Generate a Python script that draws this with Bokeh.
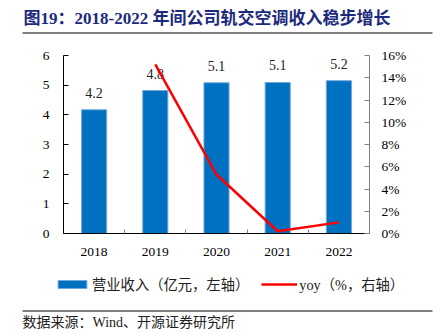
from bokeh.plotting import figure
from bokeh.models import (Range1d, LinearAxis, FixedTicker, Legend, LegendItem,
                          PrintfTickFormatter)
from bokeh.layouts import column
from bokeh.core.properties import value
from bokeh.embed import file_html
from bokeh.resources import INLINE

years = ["2018", "2019", "2020", "2021", "2022"]
revenue = [4.17, 4.82, 5.08, 5.09, 5.15]
rev_labels = ["4.2", "4.8", "5.1", "5.1", "5.2"]
yoy_years = ["2019", "2020", "2021", "2022"]
yoy = [15.2, 5.3, 0.2, 1.0]
left_ticks = [0, 1, 2, 3, 4, 5, 6]
right_ticks = [0, 2, 4, 6, 8, 10, 12, 14, 16]
title_text = "图19：2018-2022 年间公司轨交空调收入稳步增长"
source_text = "数据来源：Wind、开源证券研究所"
bar_name = "营业收入（亿元，左轴）"
line_name = "yoy（%，右轴）"

SERIF = "'Liberation Serif', 'Noto Sans CJK SC'"
FS = "13.5px"
BAR_FILL = "#0070C0"
BAR_EDGE = "#6FA8DC"
LINE_COLOR = "#FF0000"


def blank(h, top):
    f = figure(width=434, height=h, x_range=Range1d(0, 434), y_range=Range1d(top + h, top),
               output_backend="svg", toolbar_location=None, min_border=0, frame_align=False)
    f.axis.visible = False
    f.grid.visible = False
    f.outline_line_color = None
    f.title.visible = False
    return f


# header
head = blank(40, 0)
head.segment(x0=[22], y0=[32.5], x1=[432], y1=[32.5], line_color="#000000", line_width=1.2)
head.text(x=[23], y=[18], text=[title_text], text_font=value(SERIF), text_font_size="17px",
          text_font_style="bold", text_color="#1C2A7E", text_baseline="middle")

# main chart
xi = list(range(len(years)))
yoy_x = [years.index(y) for y in yoy_years]

p = figure(width=434, height=225, x_range=Range1d(-0.5, 4.5), y_range=Range1d(0, 6),
           output_backend="svg", toolbar_location=None, frame_align=False,
           min_border_left=63, min_border_right=65, min_border_top=15, min_border_bottom=32)
p.title.visible = False
p.outline_line_color = None
p.xgrid.visible = False
p.ygrid.visible = False
p.extra_y_ranges = {"yoy": Range1d(0, 16)}

p.vbar(x=xi, top=revenue, width=0.41, fill_color=BAR_FILL, line_color=BAR_EDGE, line_width=1)
p.text(x=xi, y=revenue, text=rev_labels, y_offset=-17, text_align="center", text_baseline="alphabetic",
       text_font=value(SERIF), text_font_size="14px", text_color="#222222")
p.line(x=yoy_x, y=yoy, y_range_name="yoy", line_color=LINE_COLOR, line_width=2.5)

ya = p.yaxis[0]
ya.ticker = FixedTicker(ticks=left_ticks)
ya.major_tick_in = 5
ya.major_tick_out = 0
ya.minor_tick_line_color = None
ya.axis_line_color = "#000000"
ya.major_tick_line_color = "#000000"
ya.major_label_standoff = 14
ya.major_label_text_font = SERIF
ya.major_label_text_font_size = FS
ya.major_label_text_color = "#000000"

ra = LinearAxis(y_range_name="yoy", ticker=FixedTicker(ticks=right_ticks),
                formatter=PrintfTickFormatter(format="%d%%"))
ra.major_tick_in = 5
ra.major_tick_out = 0
ra.minor_tick_line_color = None
ra.axis_line_color = "#808080"
ra.major_tick_line_color = "#808080"
ra.major_label_standoff = 12
ra.major_label_text_font = SERIF
ra.major_label_text_font_size = FS
ra.major_label_text_color = "#000000"
p.add_layout(ra, "right")

xa = p.xaxis[0]
xa.ticker = FixedTicker(ticks=xi, minor_ticks=[0.5, 1.5, 2.5, 3.5])
xa.major_label_overrides = {i: y for i, y in zip(xi, years)}
xa.major_tick_line_color = None
xa.minor_tick_in = 4
xa.minor_tick_out = 0
xa.minor_tick_line_color = "#808080"
xa.axis_line_color = "#000000"
xa.major_label_standoff = 8
xa.major_label_text_font = SERIF
xa.major_label_text_font_size = FS
xa.major_label_text_color = "#000000"

# footer with legend; legend proxies (one point each, outside the visible range) share the series styles
foot = blank(68, 265)
foot.segment(x0=[22], y0=[310.5], x1=[432], y1=[310.5], line_color="#000000", line_width=1.2)
foot.text(x=[22], y=[322], text=[source_text], text_font=value(SERIF), text_font_size="14px",
          text_color="#222222", text_baseline="middle")
bar_proxy = foot.vbar(x=[1000], top=[1001], bottom=[1000], width=1,
                      fill_color=BAR_FILL, line_color=BAR_EDGE, line_width=1)
line_proxy = foot.line(x=[1000, 1001], y=[1000, 1000], line_color=LINE_COLOR, line_width=2.5)
legend = Legend(items=[LegendItem(label=bar_name, renderers=[bar_proxy]),
                       LegendItem(label=line_name, renderers=[line_proxy])],
                orientation="horizontal", location=(54, 39),
                glyph_width=36, glyph_height=10, label_standoff=2, spacing=12,
                padding=0, margin=0, border_line_color=None, background_fill_alpha=0,
                label_text_font=SERIF, label_text_font_size="14.3px", label_text_color="#222222")
foot.add_layout(legend, "center")

layout = column(head, p, foot, spacing=0)
open("out.html", "w").write(file_html(layout, INLINE))
